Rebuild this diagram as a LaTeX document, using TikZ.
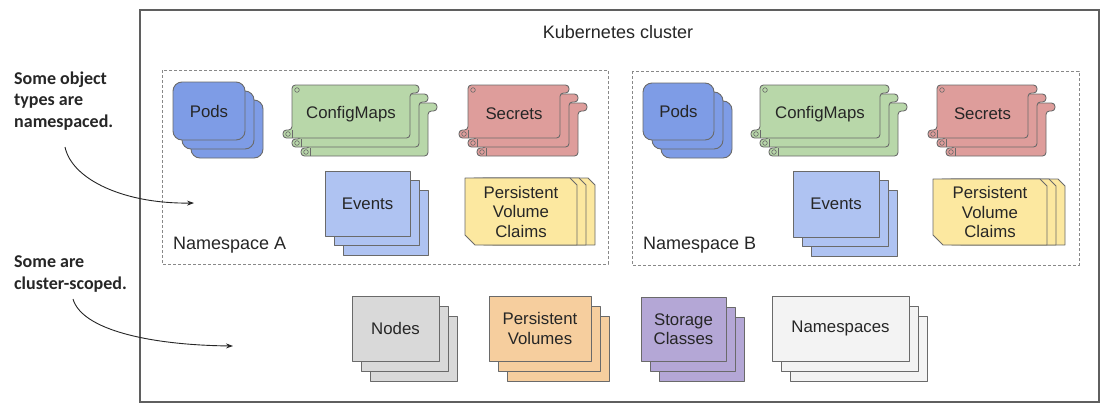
\documentclass[tikz,border=0pt]{standalone}
\usepackage{fontspec}
\setmainfont{Liberation Sans}
\newfontfamily\annfont{Carlito}
\usetikzlibrary{arrows.meta}
\definecolor{podfill}{HTML}{7E9CE6}
\definecolor{evfill}{HTML}{AFC3F2}
\definecolor{cmfill}{HTML}{B8D7A9}
\definecolor{secfill}{HTML}{DE9D9B}
\definecolor{pvcfill}{HTML}{FCE8A0}
\definecolor{nodefill}{HTML}{D9D9D9}
\definecolor{pvfill}{HTML}{F6CE9E}
\definecolor{scfill}{HTML}{B4A7D6}
\definecolor{nsfill}{HTML}{F3F3F3}
\definecolor{edgecol}{HTML}{6A6A6A}
\definecolor{txt}{HTML}{262626}
\tikzset{
  edge/.style={draw=edgecol, line width=0.9pt, line join=round},
  lbl/.style={text=txt, font=\fontsize{16.8}{19.5}\selectfont, align=center, inner sep=0pt},
  biglbl/.style={text=txt, font=\fontsize{18}{21}\selectfont, inner sep=0pt},
  ann/.style={text=txt, font=\annfont\bfseries\fontsize{18}{21.5}\selectfont, align=left, inner sep=0pt},
  cluster/.style={draw=edgecol!90!black, line width=1.8pt},
  nsbox/.style={draw=edgecol!80, line width=0.9pt, dash pattern=on 3pt off 2pt},
  pointer/.style={draw=txt, line width=0.9pt, -{Stealth[length=7pt,width=5pt]}}
}
% #1 x0 #2 y0 #3 x1 #4 y1 #5 fill #6 dx #7 dy #8 extra style
\newcommand{\rectstack}[8]{%
  \foreach \k in {2,1,0}{%
    \draw[edge, fill=#5, #8] ({#1+\k*#6},{#2+\k*#7}) rectangle ({#3+\k*#6},{#4+\k*#7});
  }}
% scroll card
\newcommand{\scrollcard}[5]{%
  \draw[edge, fill=#5, rounded corners=3.5pt] (#1,#2) -- ({#3+9},#2) -- ({#3+9},{#2+8}) -- (#3,{#2+8}) -- (#3,#4) -- ({#1-9},#4) -- ({#1-9},{#4-8}) -- (#1,{#4-8}) -- cycle;
  \draw[edge, line width=0.6pt] (#1,{#4-8}) -- (#1,#4);
  \draw[edge, line width=0.6pt] ({#1+5},{#2+5}) circle (2.3pt);
  \draw[edge, line width=0.6pt] ({#1-4},{#4-4}) circle (2.3pt);
}
\newcommand{\scrollstack}[5]{%
  \foreach \k in {2,1,0}{%
    \scrollcard{#1+\k*9}{#2+\k*9}{#3+\k*9}{#4+\k*9}{#5}
  }}
% chamfered card stack (PVC)
\newcommand{\pvcstack}[4]{%
  \foreach \k in {2,1,0}{%
    \draw[edge, fill=pvcfill] ({#1+\k*9},#2) -- ({#3+\k*9-7},#2) -- ({#3+\k*9},{#2+7}) -- ({#3+\k*9},#4) -- ({#1+\k*9+10},#4) -- ({#1+\k*9},{#4-10}) -- cycle;
  }}
\begin{document}
\begin{tikzpicture}[x=1pt, y=-1pt]
\useasboundingbox (0,0) rectangle (1116,413);
\fill[white] (0,0) rectangle (1116,413);

% cluster
\draw[cluster] (140,10) rectangle (1099,402);
\node[biglbl] (title) at (618,32) {Kubernetes cluster};

% namespaces
\draw[nsbox] (162,70) rectangle (608,264);
\draw[nsbox] (632,71) rectangle (1079,265);
\node[biglbl, anchor=west] (nsA) at (173,245) {Namespace A};
\node[biglbl, anchor=west] (nsB) at (643,245) {Namespace B};

% Namespace A objects
\rectstack{173}{82}{245}{140}{podfill}{9}{9}{rounded corners=9pt}
\node[lbl] (podsA) at (209,111) {Pods};
\scrollstack{292}{85}{410}{138}{cmfill}
\node[lbl] (cmA) at (351,114) {ConfigMaps};
\scrollstack{468}{85}{560}{138}{secfill}
\node[lbl] (secA) at (514,114) {Secrets};
\rectstack{325}{171}{410}{236}{evfill}{9}{9.5}{}
\node[lbl] (evA) at (367.5,203.5) {Events};
\pvcstack{465}{178}{577}{245}
\node[lbl] (pvcA) at (521,211.5) {Persistent\\Volume\\Claims};

% Namespace B objects
\rectstack{643}{83}{714}{140}{podfill}{9}{9}{rounded corners=9pt}
\node[lbl] (podsB) at (678.5,111.5) {Pods};
\scrollstack{760}{85}{880}{138}{cmfill}
\node[lbl] (cmB) at (820,114) {ConfigMaps};
\scrollstack{937}{85}{1028}{138}{secfill}
\node[lbl] (secB) at (982.5,114) {Secrets};
\rectstack{793}{171}{879}{237}{evfill}{9}{9.5}{}
\node[lbl] (evB) at (836,204) {Events};
\pvcstack{933}{179}{1047}{245}
\node[lbl] (pvcB) at (990,212) {Persistent\\Volume\\Claims};

% cluster-scoped objects
\rectstack{352}{296}{439}{361}{nodefill}{9}{10}{}
\node[lbl] (nodes) at (395.5,328.5) {Nodes};
\rectstack{489}{296}{591}{361}{pvfill}{9}{10}{}
\node[lbl] (pv) at (540,328.5) {Persistent\\Volumes};
\rectstack{641}{297}{726}{361}{scfill}{9}{10}{}
\node[lbl] (sc) at (683.5,329) {Storage\\Classes};
\rectstack{772}{296}{909}{361}{nsfill}{9}{10}{}
\node[lbl] (nss) at (840.5,328.5) {Namespaces};

% annotations
\node[ann, anchor=west] (ann1) at (14,101) {Some object\\types are\\namespaced.};
\node[ann, anchor=west] (ann2) at (14,274) {Some are\\cluster-scoped.};
\coordinate (a1s) at (65,147);
\coordinate (a1e) at (194,203);
\coordinate (a2s) at (73,299);
\coordinate (a2e) at (233,346);
\draw[pointer] (a1s) .. controls (72,180) and (125,204) .. (a1e);
\draw[pointer] (a2s) .. controls (82,330) and (150,345) .. (a2e);
\end{tikzpicture}
\end{document}
